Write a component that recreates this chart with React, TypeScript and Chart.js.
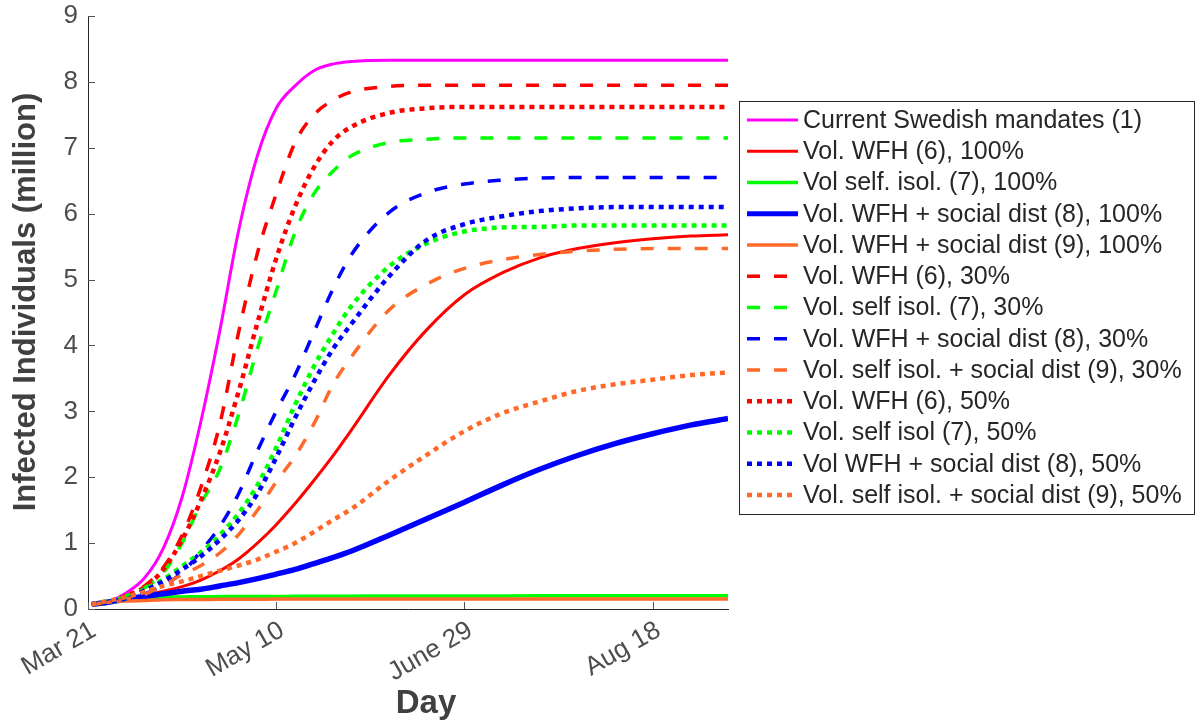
import React, { useEffect, useRef } from 'react';
import { Chart, registerables } from 'chart.js';

Chart.register(...registerables);

// ---------- data ----------
const days = [1, 5, 10, 15, 20, 25, 30, 35, 40, 45, 50, 55, 60, 65, 70, 80, 90, 100, 110, 120, 130, 140, 150, 160, 170];

const xTickDays = [0, 50, 100, 150];
const xTickLabels = ['Mar 21', 'May 10', 'June 29', 'Aug 18'];
const yTickValues = [0, 1, 2, 3, 4, 5, 6, 7, 8, 9];

const xTitle = 'Day';
const yTitle = 'Infected Individuals (million)';

const currentMandates = [0.07, 0.1, 0.24, 0.47, 0.92, 1.7, 2.85, 4.22, 5.74, 6.88, 7.6, 7.94, 8.17, 8.27, 8.31, 8.33, 8.33, 8.33, 8.33, 8.33, 8.33, 8.33, 8.33, 8.33, 8.33];
const wfh100 = [0.07, 0.1, 0.15, 0.21, 0.27, 0.34, 0.44, 0.58, 0.76, 1.0, 1.28, 1.6, 1.95, 2.32, 2.72, 3.55, 4.24, 4.77, 5.1, 5.33, 5.47, 5.56, 5.62, 5.66, 5.68];
const selfIsol100 = [0.07, 0.12, 0.15, 0.17, 0.18, 0.183, 0.186, 0.188, 0.19, 0.19, 0.19, 0.192, 0.193, 0.194, 0.195, 0.196, 0.197, 0.198, 0.199, 0.2, 0.2, 0.2, 0.2, 0.2, 0.2];
const wfhSocial100 = [0.07, 0.1, 0.15, 0.19, 0.23, 0.27, 0.3, 0.35, 0.4, 0.46, 0.53, 0.6, 0.69, 0.78, 0.88, 1.12, 1.37, 1.62, 1.88, 2.12, 2.33, 2.51, 2.66, 2.79, 2.89];
const selfIsolSocial100 = [0.07, 0.1, 0.12, 0.13, 0.14, 0.143, 0.145, 0.147, 0.148, 0.149, 0.15, 0.15, 0.15, 0.15, 0.15, 0.15, 0.15, 0.15, 0.15, 0.15, 0.15, 0.15, 0.15, 0.15, 0.15];
const wfh30 = [0.07, 0.1, 0.2, 0.35, 0.63, 1.12, 1.85, 2.8, 4.2, 5.4, 6.3, 7.08, 7.5, 7.72, 7.85, 7.93, 7.95, 7.95, 7.95, 7.95, 7.95, 7.95, 7.95, 7.95, 7.95];
const selfIsol30 = [0.07, 0.1, 0.2, 0.32, 0.55, 1.0, 1.6, 2.12, 2.95, 3.95, 4.83, 5.72, 6.3, 6.64, 6.88, 7.08, 7.13, 7.15, 7.15, 7.15, 7.15, 7.15, 7.15, 7.15, 7.15];
const wfhSocial30 = [0.07, 0.1, 0.15, 0.23, 0.36, 0.55, 0.88, 1.25, 1.75, 2.4, 3.0, 3.55, 4.2, 4.85, 5.38, 6.02, 6.32, 6.45, 6.51, 6.54, 6.55, 6.55, 6.55, 6.55, 6.55];
const selfIsolSocial30 = [0.07, 0.1, 0.15, 0.22, 0.37, 0.52, 0.66, 0.85, 1.13, 1.5, 1.93, 2.32, 2.81, 3.4, 3.83, 4.54, 4.93, 5.17, 5.3, 5.38, 5.43, 5.46, 5.47, 5.47, 5.47];
const wfh50 = [0.07, 0.1, 0.2, 0.33, 0.6, 1.05, 1.65, 2.37, 3.3, 4.34, 5.32, 6.11, 6.7, 7.1, 7.32, 7.53, 7.6, 7.62, 7.62, 7.62, 7.62, 7.62, 7.62, 7.62, 7.62];
const selfIsol50 = [0.07, 0.1, 0.16, 0.3, 0.45, 0.65, 0.86, 1.12, 1.45, 1.88, 2.45, 3.1, 3.68, 4.17, 4.6, 5.2, 5.55, 5.73, 5.79, 5.8, 5.82, 5.82, 5.82, 5.82, 5.82];
const wfhSocial50 = [0.07, 0.1, 0.16, 0.28, 0.42, 0.6, 0.8, 1.05, 1.35, 1.75, 2.3, 2.9, 3.45, 3.94, 4.33, 5.05, 5.6, 5.84, 5.96, 6.04, 6.08, 6.1, 6.1, 6.1, 6.1];
const selfIsolSocial50 = [0.07, 0.12, 0.18, 0.26, 0.35, 0.42, 0.5, 0.58, 0.66, 0.75, 0.87, 1.0, 1.17, 1.35, 1.52, 1.95, 2.34, 2.7, 2.97, 3.15, 3.31, 3.41, 3.48, 3.55, 3.59];

const seriesLabels = [
  'Current Swedish mandates (1)',
  'Vol. WFH (6), 100%',
  'Vol self. isol. (7), 100%',
  'Vol. WFH + social dist (8), 100%',
  'Vol. WFH + social dist (9), 100%',
  'Vol. WFH (6), 30%',
  'Vol. self isol. (7), 30%',
  'Vol. WFH + social dist (8), 30%',
  'Vol. self isol. + social dist (9), 30%',
  'Vol. WFH (6), 50%',
  'Vol. self isol (7), 50%',
  'Vol WFH + social dist (8), 50%',
  'Vol. self isol. + social dist (9), 50%',
];
const seriesValues = [
  currentMandates, wfh100, selfIsol100, wfhSocial100, selfIsolSocial100,
  wfh30, selfIsol30, wfhSocial30, selfIsolSocial30,
  wfh50, selfIsol50, wfhSocial50, selfIsolSocial50,
];

// ---------- styles ----------
const MAGENTA = '#ff00ff';
const RED = '#ff0000';
const GREEN = '#00ff00';
const BLUE = '#0000ff';
const ORANGE = '#ff6a2a';
const seriesColors = [MAGENTA, RED, GREEN, BLUE, ORANGE, RED, GREEN, BLUE, ORANGE, RED, GREEN, BLUE, ORANGE];
const seriesStyles = ['solid', 'solid', 'solid', 'solid', 'solid', 'dashed', 'dashed', 'dashed', 'dashed', 'dotted', 'dotted', 'dotted', 'dotted'];
const seriesWidths = [3, 3, 3.5, 5.5, 3.5, 3.5, 3.5, 3.5, 3.5, 4.5, 4.5, 4.5, 4.5];

const FONT = '"Liberation Sans", Arial, Helvetica, sans-serif';
const AXIS_COLOR = '#262626';
const TICK_TEXT = '#4d4d4d';
const TITLE_TEXT = '#404040';

const dashFor = (s: string) => (s === 'dashed' ? [13, 14] : s === 'dotted' ? [5, 5] : []);

const innerTicksPlugin = {
  id: 'innerTicks',
  beforeDatasetsDraw(chart: any) {
    const { ctx, chartArea, scales } = chart;
    ctx.save();
    ctx.strokeStyle = '#555555';
    ctx.lineWidth = 1;
    ctx.beginPath();
    xTickDays.forEach((v) => {
      const px = Math.round(scales.x.getPixelForValue(v)) + 0.5;
      ctx.moveTo(px, chartArea.bottom);
      ctx.lineTo(px, chartArea.bottom - 7);
    });
    yTickValues.forEach((v) => {
      const py = Math.round(scales.y.getPixelForValue(v)) + 0.5;
      ctx.moveTo(chartArea.left, py);
      ctx.lineTo(chartArea.left + 7, py);
    });
    ctx.stroke();
    ctx.restore();
  },
};

const titlesPlugin = {
  id: 'axisTitles',
  afterDraw(chart: any) {
    const { ctx } = chart;
    ctx.save();
    ctx.fillStyle = TITLE_TEXT;
    ctx.textAlign = 'center';
    ctx.textBaseline = 'alphabetic';
    ctx.font = `bold 33px ${FONT}`;
    ctx.fillText(xTitle, 426, 713);
    ctx.translate(35, 302);
    ctx.rotate(-Math.PI / 2);
    ctx.font = `bold 31px ${FONT}`;
    ctx.fillText(yTitle, 0, 0);
    ctx.restore();
  },
};

const legendPlugin = {
  id: 'boxLegend',
  afterDraw(chart: any) {
    const { ctx } = chart;
    const x0 = 739.5;
    const y0 = 101.5;
    const w = 455;
    const h = 413;
    ctx.save();
    ctx.fillStyle = '#ffffff';
    ctx.fillRect(x0, y0, w, h);
    ctx.strokeStyle = AXIS_COLOR;
    ctx.lineWidth = 1;
    ctx.setLineDash([]);
    ctx.strokeRect(x0, y0, w, h);
    chart.data.datasets.forEach((ds: any, i: number) => {
      const cy = 120 + i * 31.25;
      ctx.save();
      ctx.beginPath();
      ctx.setLineDash(ds.borderDash || []);
      ctx.lineWidth = Math.min(ds.borderWidth, 5);
      ctx.strokeStyle = ds.borderColor;
      ctx.lineCap = 'butt';
      ctx.moveTo(747, cy);
      ctx.lineTo(seriesStyles[i] === 'dotted' ? 795 : 798, cy);
      ctx.stroke();
      ctx.restore();
      ctx.fillStyle = AXIS_COLOR;
      ctx.font = `25px ${FONT}`;
      ctx.textAlign = 'left';
      ctx.textBaseline = 'middle';
      ctx.fillText(ds.label, 803, cy + 1);
    });
    ctx.restore();
  },
};

export default function App() {
  const ref = useRef<HTMLCanvasElement>(null);

  useEffect(() => {
    document.body.style.margin = '0';
    if (!ref.current) return;
    const datasets = seriesLabels.map((label, i) => ({
      label,
      data: days.map((d, j) => ({ x: d, y: seriesValues[i][j] })),
      borderColor: seriesColors[i],
      backgroundColor: seriesColors[i],
      borderWidth: seriesWidths[i],
      borderDash: dashFor(seriesStyles[i]),
      borderCapStyle: 'butt',
      borderJoinStyle: 'round',
      pointRadius: 0,
      pointHoverRadius: 0,
      fill: false,
      cubicInterpolationMode: 'monotone',
      order: seriesLabels.length - i,
    }));

    const chart = new Chart(ref.current, {
      type: 'line',
      data: { datasets } as any,
      options: {
        responsive: false,
        animation: false,
        layout: { padding: { top: 16, right: 471, left: 0, bottom: 0 } },
        plugins: {
          legend: { display: false },
          tooltip: { enabled: false },
          title: { display: false },
        },
        scales: {
          x: {
            type: 'linear',
            min: 0,
            max: 170,
            afterBuildTicks: (s: any) => {
              s.ticks = xTickDays.map((v) => ({ value: v }));
            },
            afterFit: (s: any) => {
              s.height = 116;
              s.paddingLeft = 0;
              s.paddingRight = 0;
              s.paddingTop = 0;
              s.paddingBottom = 0;
            },
            grid: { display: false, drawTicks: false },
            border: { display: true, color: AXIS_COLOR, width: 1 },
            ticks: {
              autoSkip: false,
              maxRotation: 30,
              minRotation: 30,
              padding: 6,
              labelOffset: 6,
              color: TICK_TEXT,
              font: { family: FONT, size: 26 },
              callback: (v: any) => {
                const k = xTickDays.indexOf(Number(v));
                return k >= 0 ? xTickLabels[k] : '';
              },
            },
          },
          y: {
            type: 'linear',
            min: 0,
            max: 9,
            afterBuildTicks: (s: any) => {
              s.ticks = yTickValues.map((v) => ({ value: v }));
            },
            afterFit: (s: any) => {
              s.width = 88;
              s.paddingLeft = 0;
              s.paddingRight = 0;
              s.paddingTop = 0;
              s.paddingBottom = 0;
            },
            grid: { display: false, drawTicks: false },
            border: { display: true, color: AXIS_COLOR, width: 1 },
            ticks: {
              padding: 10,
              color: TICK_TEXT,
              font: { family: FONT, size: 26 },
            },
          },
        },
      } as any,
      plugins: [innerTicksPlugin, titlesPlugin, legendPlugin],
    });
    return () => chart.destroy();
  }, []);

  return (
    <div style={{ width: 1199, height: 725 }}>
      <canvas ref={ref} width={1199} height={725} />
    </div>
  );
}
